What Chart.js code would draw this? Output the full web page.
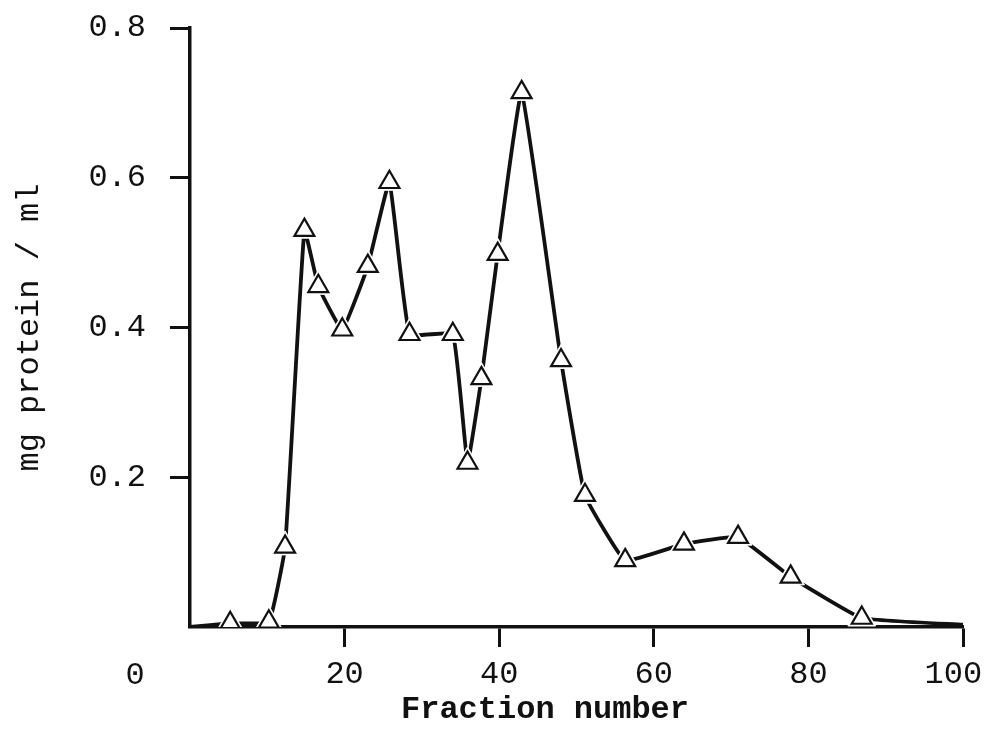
<!DOCTYPE html>
<html>
<head>
<meta charset="utf-8">
<title>Fraction number vs mg protein / ml</title>
<script src="https://cdn.jsdelivr.net/npm/chart.js@4.4.1/dist/chart.umd.min.js"></script>
<style>
  html, body { margin: 0; padding: 0; background: #fff; }
  #wrap { width: 989px; height: 742px; }
</style>
</head>
<body>
<div id="wrap"><canvas id="myChart" width="989" height="742"></canvas></div>
<script>
'use strict';

//Data (first and last entries are the baseline ends, no marker)
let fractionNo = [0, 5.2, 10.2, 12.3, 14.8, 16.6, 19.7, 23.0, 25.8, 28.4, 34.0, 35.9, 37.7, 39.8, 42.9, 48.0, 51.1, 56.3, 63.9, 70.9, 77.7, 86.9, 100];
let proteinMg = [0, 0.005, 0.007, 0.107, 0.530, 0.455, 0.397, 0.482, 0.594, 0.391, 0.391, 0.219, 0.332, 0.498, 0.714, 0.356, 0.176, 0.089, 0.111, 0.120, 0.067, 0.012, 0.003];

let xTicks = [0, 20, 40, 60, 80, 100];
let yTicks = [0, 0.2, 0.4, 0.6, 0.8];

let xTitle = 'Fraction number';
let yTitle = 'mg protein / ml';

let fontFam = '"Liberation Mono", "DejaVu Sans Mono", monospace';
let ink = '#111';

let ctx = document.getElementById('myChart').getContext('2d');

let points = [];
for (let i = 0; i < fractionNo.length; i++) {
  points.push({ x: fractionNo[i], y: proteinMg[i] });
}

function isEnd(c) {
  return c.dataIndex === 0 || c.dataIndex === points.length - 1;
}

// draws the shared "0" at the origin and the x title
let extraText = {
  id: 'extraText',
  afterDraw(chart) {
    let c = chart.ctx;
    let xs = chart.scales.x;
    c.save();
    c.fillStyle = ink;
    c.textAlign = 'center';
    c.textBaseline = 'middle';
    c.font = '32px ' + fontFam;
    c.fillText('0', xs.left - 55, 676);
    c.font = 'bold 32px ' + fontFam;
    c.fillText(xTitle, 545, 710);
    c.restore();
  }
};

let myChartObj = {
  type: 'line',
  data: {
    datasets: [{
      label: 'gap',
      data: points,
      showLine: false,
      pointStyle: 'triangle',
      pointRadius: (c) => isEnd(c) ? 0 : 16,
      pointBackgroundColor: '#fff',
      pointBorderColor: '#fff',
      pointBorderWidth: 1,
      order: 1
    },
    {
      label: 'protein',
      data: points,
      borderColor: ink,
      borderWidth: 3.8,
      tension: 0.1,
      pointRadius: 0,
      order: 2
    },
    {
      label: 'markers',
      data: points,
      showLine: false,
      pointStyle: 'triangle',
      pointRadius: (c) => isEnd(c) ? 0 : 11.5,
      pointBackgroundColor: '#fff',
      pointBorderColor: ink,
      pointBorderWidth: 2.2,
      order: 0
    }]
  },
  options: {
    responsive: false,
    animation: false,
    layout: {
      padding: { left: 10, right: 26, top: 28, bottom: 0 }
    },
    plugins: {
      legend: { display: false },
      tooltip: { enabled: false }
    },
    scales: {
      x: {
        type: 'linear',
        min: 0,
        max: 100,
        afterBuildTicks: (scale) => {
          scale.ticks = xTicks.map(v => ({ value: v }));
        },
        afterFit: (scale) => {
          scale.height = 742 - 627;
          scale.paddingLeft = 0;
          scale.paddingRight = 0;
        },
        border: { color: ink, width: 3.5 },
        grid: {
          drawOnChartArea: false,
          tickLength: 20,
          tickWidth: 3,
          tickColor: (c) => c.tick && c.tick.value === 0 ? 'rgba(0,0,0,0)' : ink
        },
        ticks: {
          color: ink,
          padding: 8,
          maxRotation: 0,
          font: { family: fontFam, size: 32 },
          // trailing space nudges the last label left, as in the original
          callback: (v) => v === 0 ? '' : (v === 100 ? '100 ' : String(v))
        }
      },
      y: {
        min: 0,
        max: 0.8,
        afterBuildTicks: (scale) => {
          scale.ticks = yTicks.map(v => ({ value: v }));
        },
        afterFit: (scale) => {
          scale.width = 180;
          scale.paddingTop = 0;
          scale.paddingBottom = 0;
        },
        border: { color: ink, width: 3.5 },
        grid: {
          drawOnChartArea: false,
          tickLength: 20,
          tickWidth: 3,
          tickColor: (c) => c.tick && c.tick.value === 0 ? 'rgba(0,0,0,0)' : ink
        },
        title: {
          display: true,
          text: yTitle,
          color: ink,
          padding: { top: 0, bottom: 0 },
          font: { family: fontFam, size: 32 }
        },
        ticks: {
          color: ink,
          padding: 24,
          font: { family: fontFam, size: 32 },
          callback: (v) => v === 0 ? '' : v.toFixed(1)
        }
      }
    }
  },
  plugins: [extraText]
};

const myChart = new Chart(ctx, myChartObj);
</script>
</body>
</html>
